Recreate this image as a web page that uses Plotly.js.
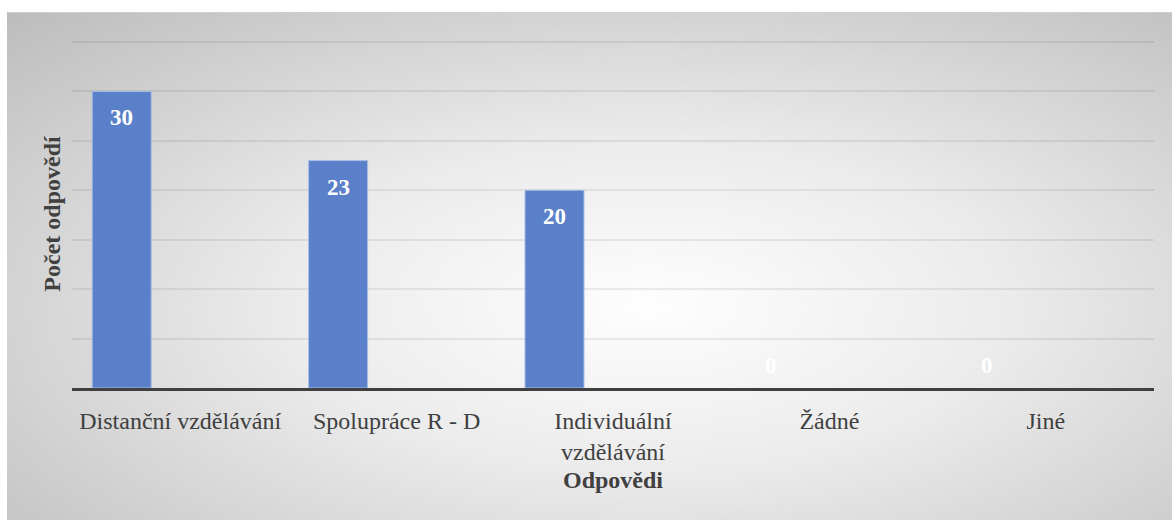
<!DOCTYPE html>
<html>
<head>
<meta charset="utf-8">
<script src="https://cdn.plot.ly/plotly-3.0.1.min.js"></script>
<style>
  html, body { margin: 0; padding: 0; background: #ffffff; }
  #wrap { position: relative; width: 1172px; height: 520px; overflow: hidden; }
  #bg { position: absolute; left: 7px; top: 12px; width: 1165px; height: 508px;
        background: radial-gradient(ellipse farthest-corner at 55% 58%, #fefefe 0%, #ebebeb 40%, #bcbcbc 100%);
        border-top: 1px solid #cfcfcf; box-sizing: border-box; }
  #chart { position: absolute; left: 0; top: 0; width: 1172px; height: 520px; }
</style>
</head>
<body>
<div id="wrap">
  <div id="bg"></div>
  <div id="chart"></div>
</div>
<script>
const categories = ["Distanční vzdělávání", "Spolupráce R - D", "Individuální<br>vzdělávání", "Žádné", "Jiné"];
const values = [30, 23, 20, 0, 0];
const yTickValues = [0, 5, 10, 15, 20, 25, 30, 35];
const xTitle = "Odpovědi";
const yTitle = "Počet odpovědí";

const barWidth = 0.2727;
const barOffset = -0.4067;
const xShiftPx = (barOffset + barWidth / 2) * 216.4;

const font = "Liberation Serif";

const annotations = values.map((v, i) => ({
  x: categories[i], y: v, xref: "x", yref: "y",
  text: String(v), showarrow: false,
  xshift: xShiftPx,
  yanchor: v > 0 ? "top" : "bottom",
  yshift: v > 0 ? -12 : 8,
  font: { family: font, size: 23, color: "#ffffff", weight: "bold" }
}));

const trace = {
  type: "bar",
  x: categories,
  y: values,
  width: barWidth,
  offset: barOffset,
  marker: { color: "#5a80c9", line: { color: "#a9bde6", width: values.map(v => (v > 0 ? 1 : 0)) } },
  hoverinfo: "none"
};

const layout = {
  width: 1172, height: 520,
  margin: { l: 72, r: 18, t: 40, b: 132, autoexpand: false },
  paper_bgcolor: "rgba(0,0,0,0)",
  plot_bgcolor: "rgba(0,0,0,0)",
  showlegend: false,
  font: { family: font, size: 24, color: "#404040" },
  bargap: 0,
  xaxis: {
    type: "category",
    showgrid: false,
    showline: true, linecolor: "#404040", linewidth: 3,
    ticks: "", ticklabelstandoff: 9,
    tickfont: { family: font, size: 24, color: "#404040" },
    automargin: false,
    title: { text: xTitle, standoff: 8, font: { family: font, size: 24, color: "#404040", weight: "bold" } }
  },
  yaxis: {
    range: [0, 35.2],
    tickvals: yTickValues,
    showticklabels: false,
    showgrid: true, gridcolor: "rgba(0,0,0,0.07)", gridwidth: 2,
    zeroline: false, showline: false, ticks: "",
    automargin: false,
    title: { text: yTitle, standoff: 3, font: { family: font, size: 24, color: "#404040", weight: "bold" } }
  },
  annotations: annotations
};

Plotly.newPlot("chart", [trace], layout, { displayModeBar: false, staticPlot: true });
</script>
</body>
</html>
